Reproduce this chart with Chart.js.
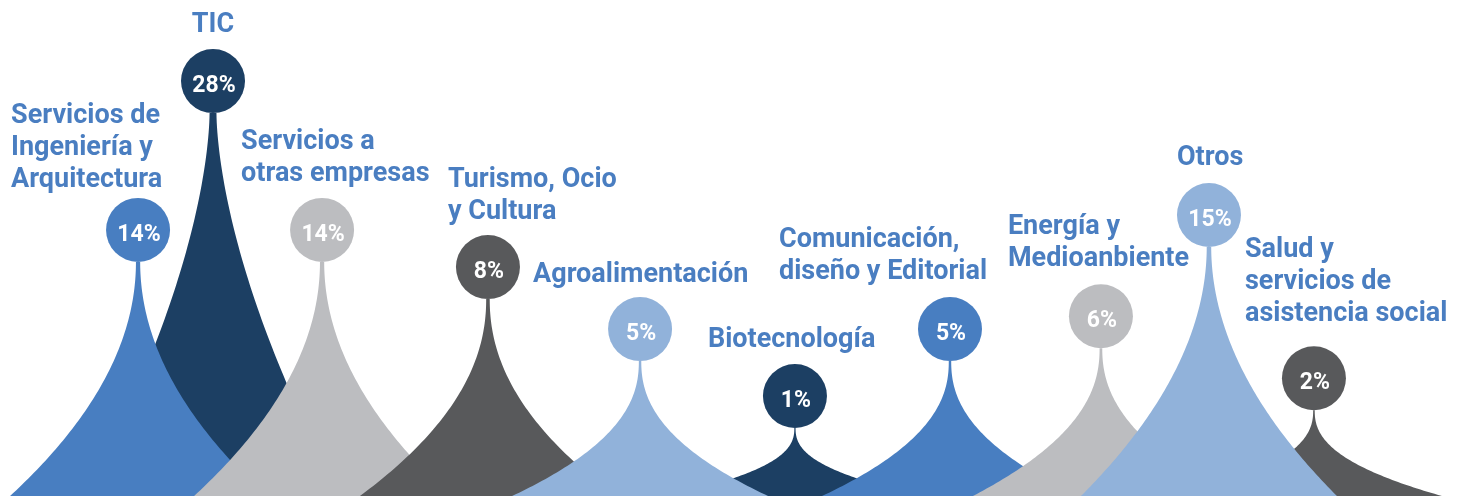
<!DOCTYPE html>
<html lang="es">
<head>
<meta charset="utf-8">
<title>Sectores</title>
<script src="https://cdn.jsdelivr.net/npm/chart.js@4/dist/chart.umd.min.js"></script>
<style>
  html, body { margin: 0; padding: 0; background: #ffffff; }
  canvas { display: block; }
</style>
</head>
<body>
<canvas id="graphCanvas" width="1464" height="496"></canvas>
<script>
// Datos
const sectores = [
    ['Servicios de', 'Ingeniería y', 'Arquitectura'],
    ['TIC'],
    ['Servicios a', 'otras empresas'],
    ['Turismo, Ocio', 'y Cultura'],
    ['Agroalimentación'],
    ['Biotecnología'],
    ['Comunicación,', 'diseño y Editorial'],
    ['Energía y', 'Medioanbiente'],
    ['Otros'],
    ['Salud y', 'servicios de', 'asistencia social']
];
const porcentajes = [14, 28, 14, 8, 5, 1, 5, 6, 15, 2];
// posicion horizontal de cada pico (eje x, 0-100) y altura del pico (eje y, 0-100)
const posicionX = [9.43, 14.55, 22.0, 33.33, 43.72, 54.3, 64.89, 75.2, 82.58, 89.75];
const alturaPico = [47.2, 77.2, 47.2, 39.7, 27.2, 13.7, 27.2, 29.8, 50.2, 17.3];

// estilos
const azul = '#487ec1', marino = '#1c3f63', gris = '#bcbdc0', grisOscuro = '#58595b', celeste = '#91b2da';
const colores = [azul, marino, gris, grisOscuro, celeste, marino, azul, gris, celeste, grisOscuro];
const colorTexto = '#4a7ec1';
// orden de dibujo (de atras hacia delante)
const ordenDibujo = [1, 0, 2, 3, 5, 4, 6, 7, 9, 8];
// desplazamiento de cada etiqueta respecto a la punta del pico: [dx, dy, alineacion]
const etiquetaOffset = [
    [-127, -139, 'left'], [0, -81, 'center'], [-81, -113, 'left'], [-40, -112, 'left'],
    [-107, -79, 'left'], [-87, -81, 'left'], [-171, -114, 'left'], [-93, -114, 'left'],
    [-32, -82, 'left'], [-69, -153, 'left']
];
const RADIO = 32;
const MEDIO_ANCHO = 128;
const INTERLINEA = 32;

// Dibuja los picos, circulos y textos a partir de los puntos del dataset
const picosPlugin = {
    id: 'picos',
    afterDatasetsDraw(chart) {
        const ctx = chart.ctx;
        const meta = chart.getDatasetMeta(0);
        const base = chart.scales.y.getPixelForValue(0);

        ordenDibujo.forEach(function (i) {
            const el = meta.data[i];
            const cx = el.x, tip = el.y;
            const h = base - tip;
            const p = 2.6 - 0.0025 * h;
            const dMin = 0.009 * h;
            const pasos = 80;

            ctx.save();
            ctx.fillStyle = colores[i];
            ctx.beginPath();
            ctx.moveTo(cx - MEDIO_ANCHO, base);
            for (let k = 0; k <= pasos; k++) {
                const s = k / pasos;
                const d = dMin + (MEDIO_ANCHO - dMin) * Math.pow(1 - s, p);
                ctx.lineTo(cx - d, base - s * h);
            }
            for (let k = pasos; k >= 0; k--) {
                const s = k / pasos;
                const d = dMin + (MEDIO_ANCHO - dMin) * Math.pow(1 - s, p);
                ctx.lineTo(cx + d, base - s * h);
            }
            ctx.closePath();
            ctx.fill();

            // circulo con el porcentaje
            ctx.beginPath();
            ctx.arc(cx, tip - RADIO, RADIO, 0, Math.PI * 2);
            ctx.fill();
            ctx.fillStyle = '#ffffff';
            ctx.font = 'bold 23px Roboto';
            ctx.textAlign = 'center';
            ctx.textBaseline = 'alphabetic';
            ctx.fillText(porcentajes[i] + '%', cx + 1, tip - RADIO + 11);
            ctx.restore();
        });

        // etiquetas de los sectores
        ctx.save();
        ctx.fillStyle = colorTexto;
        ctx.font = 'bold 27px Roboto';
        ctx.textBaseline = 'alphabetic';
        meta.data.forEach(function (el, i) {
            const off = etiquetaOffset[i];
            ctx.textAlign = off[2];
            sectores[i].forEach(function (linea, j) {
                ctx.fillText(linea, el.x + off[0], el.y + off[1] + j * INTERLINEA);
            });
        });
        ctx.restore();
    }
};

const puntos = posicionX.map(function (x, i) {
    return { x: x, y: alturaPico[i] };
});

const ctx = document.getElementById('graphCanvas').getContext('2d');
const myChart = new Chart(ctx, {
    type: 'scatter',
    data: {
        labels: sectores,
        datasets: [{
            label: 'Sectores',
            data: puntos,
            pointRadius: 0,
            pointHoverRadius: 0
        }]
    },
    options: {
        responsive: false,
        animation: false,
        layout: { padding: 0 },
        plugins: {
            legend: { display: false },
            tooltip: { enabled: false }
        },
        scales: {
            x: { type: 'linear', min: 0, max: 100, display: false },
            y: { type: 'linear', min: 0, max: 100, display: false }
        }
    },
    plugins: [picosPlugin]
});
</script>
</body>
</html>
